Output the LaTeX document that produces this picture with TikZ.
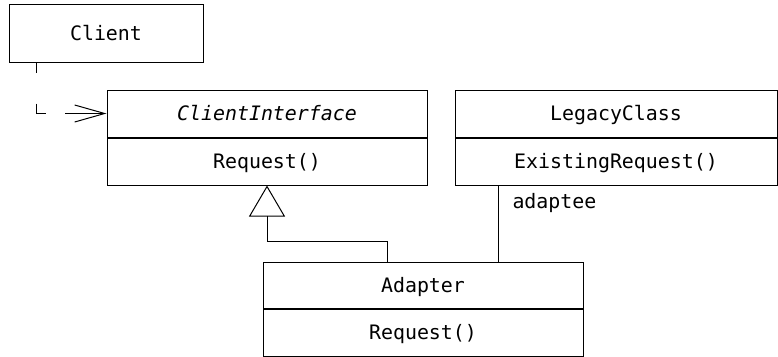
\documentclass[tikz,border=0pt]{standalone}
\usepackage{fontspec}
\setmonofont{DejaVu Sans Mono}
\usetikzlibrary{positioning,arrows.meta}
\begin{document}
\begin{tikzpicture}[x=1pt,y=-1pt,
    linea/.style={line width=1pt},
    clase/.style={draw,linea,inner sep=0pt,minimum height=47pt,
      text height=14.6pt,text depth=0pt,
      font=\ttfamily\fontsize{19.9}{24}\selectfont},
    rol/.style={inner sep=0pt,font=\ttfamily\fontsize{19.9}{24}\selectfont}]
  % marco
  \useasboundingbox (0,0) rectangle (778,356);

  %—————— Clases ——————————————————————————————————————————————————
  % cliente
  \node[clase,minimum width=194pt,minimum height=58pt] (client) at (106,33) {Client};
  % interfaz
  \node[clase,minimum width=320pt] (iface) at (267,113.5) {\itshape ClientInterface};
  \node[clase,minimum width=320pt,below=0pt of iface] (ifaceOps) {Request()};
  % clase heredada
  \node[clase,minimum width=322pt] (legacy) at (616,113.5) {LegacyClass};
  \node[clase,minimum width=322pt,below=0pt of legacy] (legacyOps) {ExistingRequest()};
  % adaptador
  \node[clase,minimum width=320pt,minimum height=46pt] (adapter) at (423,285) {Adapter};
  \node[clase,minimum width=320pt,below=0pt of adapter] (adapterOps) {Request()};

  %—————— Relaciones ——————————————————————————————————————————————
  % dependencia
  \draw[linea,dash pattern=on 10pt off 31pt on 20pt off 19pt on 60pt,
    -{Straight Barb[length=30pt,width=17pt]}]
    ([xshift=-70pt]client.south) |- (iface.west);
  % generalización
  \draw[linea,-{Triangle[open,length=31pt,width=36pt]}]
    ([xshift=-36pt]adapter.north) -- ++(0,-20) -| (ifaceOps.south);
  % asociación
  \coordinate (asoc) at (498,262);
  \draw[linea] (asoc) -- (asoc |- legacyOps.south)
    node[rol,anchor=base west,xshift=14pt,yshift=-23pt] {adaptee};
\end{tikzpicture}
\end{document}
